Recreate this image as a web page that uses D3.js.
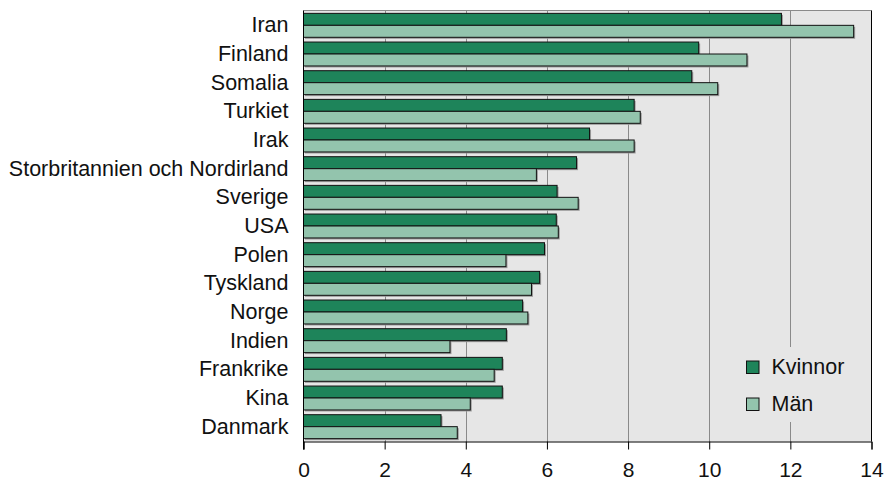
<!DOCTYPE html>
<html>
<head>
<meta charset="utf-8">
<script src="https://cdn.jsdelivr.net/npm/d3@7"></script>
<style>
  body { margin: 0; background: #fff; }
  svg { display: block; font-family: "Liberation Sans", Arial, sans-serif; }
</style>
</head>
<body>
<div id="chart"></div>
<script>
const countries = ["Iran", "Finland", "Somalia", "Turkiet", "Irak", "Storbritannien och Nordirland",
  "Sverige", "USA", "Polen", "Tyskland", "Norge", "Indien", "Frankrike", "Kina", "Danmark"];
const kvinnor = [11.78, 9.74, 9.57, 8.15, 7.05, 6.73, 6.25, 6.23, 5.94, 5.82, 5.40, 5.00, 4.90, 4.90, 3.39];
const man = [13.56, 10.93, 10.21, 8.30, 8.15, 5.74, 6.77, 6.28, 4.99, 5.62, 5.53, 3.61, 4.70, 4.11, 3.79];
const xTicks = [0, 2, 4, 6, 8, 10, 12, 14];
const seriesNames = ["Kvinnor", "Män"];
const colors = ["#1e845a", "#93c4ad"];

const width = 884, height = 482;
const plotLeft = 303.5, plotRight = 871.5, plotTop = 10.5, plotBottom = 441.5;
const fontSize = 21.5;

const svg = d3.select("#chart").append("svg")
    .attr("width", width)
    .attr("height", height);

const x = d3.scaleLinear().domain([0, 14]).range([plotLeft, plotRight]);
const y = d3.scaleBand().domain(countries).range([plotTop, plotBottom])
    .paddingInner(0.165).paddingOuter(0.1);
const sub = d3.scaleBand().domain(seriesNames).range([0, y.bandwidth()]);

// plot background
svg.append("rect")
    .attr("x", plotLeft).attr("y", plotTop)
    .attr("width", plotRight - plotLeft).attr("height", plotBottom - plotTop)
    .attr("fill", "#e6e6e6");

// grid
svg.append("g")
  .selectAll("line")
  .data(xTicks.slice(1, -1))
  .join("line")
    .attr("x1", d => Math.round(x(d)) + 0.5).attr("x2", d => Math.round(x(d)) + 0.5)
    .attr("y1", plotTop).attr("y2", plotBottom)
    .attr("stroke", "#8a8a8a").attr("stroke-width", 1);

// top border
svg.append("line")
    .attr("x1", plotLeft).attr("x2", plotRight).attr("y1", plotTop).attr("y2", plotTop)
    .attr("stroke", "#8a8a8a");

const rows = countries.map((c, i) => ({ c, vals: [kvinnor[i], man[i]] }));

const groups = svg.append("g")
  .selectAll("g")
  .data(rows)
  .join("g")
    .attr("transform", d => `translate(0,${y(d.c)})`);

const barData = d => d.vals.map((v, j) => ({ v, s: seriesNames[j], j }));

// shadows
groups.selectAll("rect.shadow")
  .data(barData)
  .join("rect")
    .attr("class", "shadow")
    .attr("x", x(0) + 1.5)
    .attr("y", d => sub(d.s) + 1.5)
    .attr("width", d => x(d.v) - x(0))
    .attr("height", sub.bandwidth())
    .attr("fill", "#9a9a9a");

groups.selectAll("rect.bar")
  .data(barData)
  .join("rect")
    .attr("class", "bar")
    .attr("x", x(0))
    .attr("y", d => sub(d.s))
    .attr("width", d => x(d.v) - x(0))
    .attr("height", sub.bandwidth())
    .attr("fill", d => colors[d.j])
    .attr("stroke", "#111")
    .attr("stroke-width", 1);

// right border
svg.append("line")
    .attr("x1", plotRight).attr("x2", plotRight).attr("y1", plotTop).attr("y2", plotBottom)
    .attr("stroke", "#000");

// x axis
const xAxis = svg.append("g")
    .attr("transform", `translate(0,${plotBottom})`)
    .call(d3.axisBottom(x).tickValues(xTicks).tickSize(8).tickPadding(13));
xAxis.select(".domain").attr("stroke", "#000");
xAxis.selectAll(".tick line").attr("stroke", "#000");
xAxis.selectAll("text")
    .attr("font-size", 21)
    .attr("font-family", "Liberation Sans, Arial, sans-serif")
    .attr("fill", "#111");

// y axis
const yAxis = svg.append("g")
    .attr("transform", `translate(${plotLeft},0)`)
    .call(d3.axisLeft(y).tickSize(0).tickPadding(15));
yAxis.select(".domain").attr("stroke", "#000")
    .attr("d", `M0,${plotTop}V${plotBottom + 8}`);
yAxis.selectAll("text")
    .attr("font-size", fontSize)
    .attr("font-family", "Liberation Sans, Arial, sans-serif")
    .attr("fill", "#111");

// legend
const legend = svg.append("g");
legend.append("rect")
    .attr("x", 735).attr("y", 347)
    .attr("width", 120).attr("height", 75)
    .attr("fill", "#e6e6e6");
const items = legend.selectAll("g.item")
  .data(seriesNames)
  .join("g")
    .attr("class", "item")
    .attr("transform", (d, i) => `translate(746.5,${361 + i * 37})`);
items.append("rect")
    .attr("width", 12.5).attr("height", 12.5)
    .attr("fill", (d, i) => colors[i])
    .attr("stroke", "#111");
items.append("text")
    .attr("x", 25).attr("y", 13)
    .attr("font-size", fontSize)
    .attr("fill", "#111")
    .text(d => d);
</script>
</body>
</html>
